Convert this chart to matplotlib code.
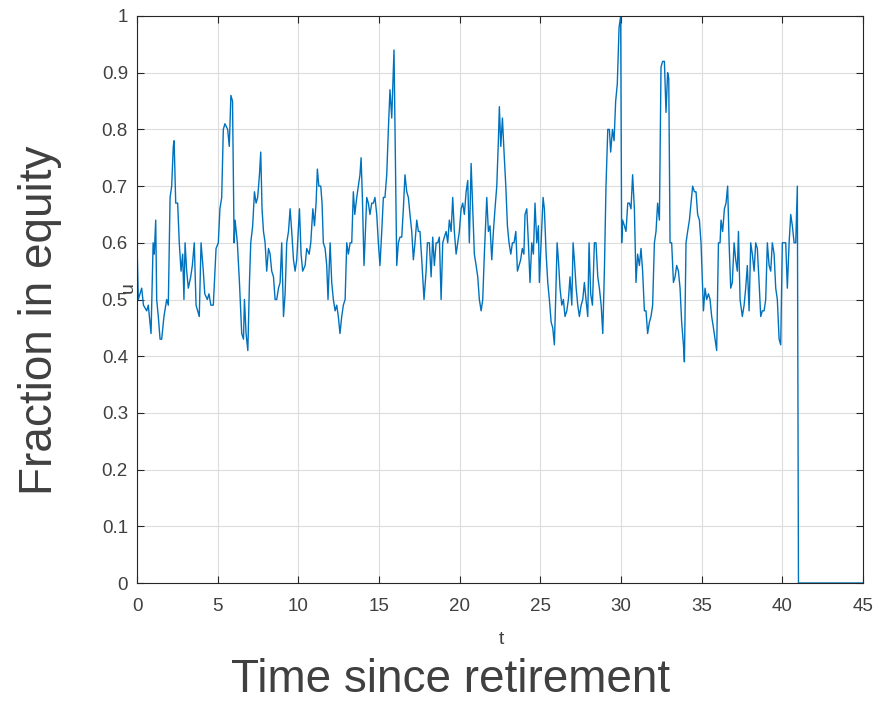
import matplotlib
matplotlib.use("Agg")
import matplotlib.pyplot as plt

t = [0.0, 0.08, 0.29, 0.4, 0.6, 0.7, 0.87, 1.0, 1.07, 1.16, 1.22, 1.32, 1.43, 1.53, 1.67, 1.84, 1.94,
     2.05, 2.15, 2.25, 2.3, 2.4, 2.52, 2.62, 2.73, 2.83, 2.91, 2.98, 3.08, 3.18, 3.33, 3.43, 3.55,
     3.66, 3.76, 3.86, 3.97, 4.11, 4.2, 4.36, 4.46, 4.58, 4.73, 4.9, 5.04, 5.14, 5.25, 5.35, 5.45,
     5.62, 5.72, 5.82, 5.92, 6.02, 6.08, 6.22, 6.35, 6.49, 6.6, 6.66, 6.76, 6.87, 6.97, 7.05, 7.17,
     7.28, 7.38, 7.48, 7.59, 7.67, 7.75, 7.84, 7.94, 8.04, 8.15, 8.25, 8.35, 8.46, 8.56, 8.66, 8.77,
     8.87, 8.97, 9.08, 9.18, 9.28, 9.39, 9.49, 9.59, 9.7, 9.8, 9.9, 10.07, 10.17, 10.27, 10.42, 10.52,
     10.67, 10.77, 10.9, 11.0, 11.1, 11.18, 11.27, 11.39, 11.47, 11.55, 11.66, 11.76, 11.84, 11.97,
     12.07, 12.17, 12.28, 12.38, 12.48, 12.58, 12.69, 12.79, 12.9, 13.0, 13.1, 13.21, 13.31, 13.41,
     13.5, 13.62, 13.72, 13.82, 13.89, 13.97, 14.07, 14.13, 14.24, 14.34, 14.44, 14.55, 14.65, 14.75,
     14.86, 14.96, 15.06, 15.17, 15.27, 15.37, 15.48, 15.58, 15.68, 15.79, 15.93, 16.1, 16.2, 16.3,
     16.41, 16.51, 16.61, 16.72, 16.82, 16.92, 17.03, 17.13, 17.23, 17.34, 17.44, 17.54, 17.65, 17.79,
     17.92, 18.0, 18.12, 18.23, 18.33, 18.43, 18.54, 18.64, 18.74, 18.85, 18.95, 19.05, 19.16, 19.26,
     19.36, 19.47, 19.57, 19.67, 19.78, 19.88, 19.98, 20.09, 20.19, 20.29, 20.4, 20.5, 20.6, 20.71,
     20.81, 20.91, 21.02, 21.12, 21.22, 21.33, 21.43, 21.53, 21.68, 21.78, 21.88, 21.99, 22.09, 22.19,
     22.3, 22.4, 22.46, 22.55, 22.65, 22.75, 22.86, 22.96, 23.06, 23.17, 23.27, 23.37, 23.48, 23.58,
     23.68, 23.78, 23.88, 23.98, 24.05, 24.16, 24.26, 24.36, 24.47, 24.57, 24.67, 24.78, 24.88, 24.94,
     25.05, 25.17, 25.25, 25.36, 25.46, 25.56, 25.67, 25.77, 25.87, 25.95, 26.04, 26.12, 26.22, 26.33,
     26.43, 26.53, 26.64, 26.74, 26.84, 26.95, 27.03, 27.11, 27.22, 27.32, 27.42, 27.53, 27.63, 27.73,
     27.83, 27.94, 28.02, 28.12, 28.23, 28.35, 28.45, 28.56, 28.66, 28.77, 28.87, 28.97, 29.07, 29.18,
     29.28, 29.36, 29.47, 29.57, 29.67, 29.77, 29.88, 29.98, 30.04, 30.1, 30.21, 30.31, 30.42, 30.52,
     30.62, 30.72, 30.83, 30.93, 31.03, 31.14, 31.24, 31.34, 31.45, 31.55, 31.65, 31.76, 31.86, 31.96,
     32.07, 32.17, 32.27, 32.38, 32.48, 32.58, 32.69, 32.79, 32.89, 32.96, 33.04, 33.14, 33.25, 33.35,
     33.45, 33.56, 33.66, 33.76, 33.87, 33.93, 34.03, 34.13, 34.24, 34.34, 34.44, 34.55, 34.65, 34.75,
     34.86, 34.96, 35.06, 35.11, 35.21, 35.31, 35.42, 35.52, 35.62, 35.73, 35.83, 35.93, 36.04, 36.14,
     36.2, 36.3, 36.41, 36.51, 36.61, 36.7, 36.8, 36.9, 37.01, 37.11, 37.21, 37.28, 37.38, 37.52,
     37.63, 37.73, 37.83, 37.94, 38.04, 38.14, 38.25, 38.35, 38.45, 38.56, 38.66, 38.76, 38.87, 38.97,
     39.07, 39.18, 39.28, 39.38, 39.49, 39.59, 39.69, 39.8, 39.9, 40.0, 40.11, 40.21, 40.31, 40.42,
     40.52, 40.62, 40.73, 40.83, 40.93, 41.0, 45.0]

u = [0.60, 0.50, 0.52, 0.49, 0.48, 0.49, 0.44, 0.60, 0.58, 0.64, 0.50, 0.47, 0.43, 0.43, 0.47, 0.50, 0.49,
     0.68, 0.70, 0.77, 0.78, 0.67, 0.67, 0.60, 0.55, 0.58, 0.50, 0.60, 0.55, 0.52, 0.54, 0.56, 0.60,
     0.49, 0.48, 0.47, 0.60, 0.55, 0.51, 0.50, 0.51, 0.49, 0.49, 0.59, 0.60, 0.66, 0.68, 0.80, 0.81,
     0.80, 0.77, 0.86, 0.85, 0.60, 0.64, 0.60, 0.53, 0.44, 0.43, 0.50, 0.44, 0.41, 0.53, 0.60, 0.63,
     0.69, 0.67, 0.68, 0.72, 0.76, 0.66, 0.62, 0.60, 0.55, 0.59, 0.58, 0.55, 0.54, 0.50, 0.50, 0.52,
     0.53, 0.60, 0.47, 0.51, 0.60, 0.62, 0.66, 0.62, 0.57, 0.55, 0.57, 0.66, 0.58, 0.55, 0.56, 0.59,
     0.58, 0.60, 0.66, 0.63, 0.67, 0.73, 0.70, 0.70, 0.67, 0.60, 0.59, 0.56, 0.50, 0.60,
     0.53, 0.50, 0.48, 0.49, 0.47, 0.44, 0.47, 0.49, 0.50, 0.60, 0.58, 0.60, 0.60, 0.69,
     0.65, 0.68, 0.70, 0.72, 0.75, 0.68, 0.56, 0.60, 0.68, 0.67, 0.65, 0.67, 0.67, 0.68,
     0.65, 0.60, 0.56, 0.62, 0.68, 0.68, 0.72, 0.80, 0.87, 0.82, 0.94, 0.56, 0.60, 0.61,
     0.61, 0.66, 0.72, 0.69, 0.68, 0.65, 0.62, 0.57, 0.60, 0.64, 0.62, 0.62, 0.57, 0.50,
     0.55, 0.60, 0.60, 0.54, 0.61, 0.56, 0.60, 0.60, 0.61, 0.50, 0.60, 0.61, 0.62, 0.60,
     0.64, 0.62, 0.68, 0.62, 0.58, 0.60, 0.62, 0.66, 0.67, 0.65, 0.69, 0.71, 0.60, 0.74,
     0.66, 0.58, 0.56, 0.54, 0.50, 0.48, 0.50, 0.58, 0.68, 0.62, 0.63, 0.57, 0.62, 0.66,
     0.70, 0.78, 0.84, 0.77, 0.82, 0.76, 0.70, 0.63, 0.60, 0.58, 0.60, 0.60, 0.62, 0.55,
     0.56, 0.57, 0.59, 0.58, 0.65, 0.66, 0.60, 0.53, 0.60, 0.58, 0.67, 0.60, 0.63, 0.53,
     0.60, 0.68, 0.66, 0.58, 0.53, 0.50, 0.46, 0.45, 0.42, 0.50, 0.60, 0.57, 0.52, 0.49,
     0.50, 0.47, 0.48, 0.50, 0.54, 0.49, 0.60, 0.57, 0.52, 0.49, 0.47, 0.49, 0.50, 0.53,
     0.50, 0.47, 0.60, 0.51, 0.49, 0.60, 0.60, 0.54, 0.52, 0.49, 0.44, 0.55, 0.70, 0.80,
     0.80, 0.76, 0.80, 0.78, 0.85, 0.88, 0.98, 1.00, 0.60, 0.64, 0.63, 0.62, 0.67, 0.67,
     0.66, 0.72, 0.66, 0.53, 0.58, 0.56, 0.59, 0.55, 0.48, 0.48, 0.44, 0.46, 0.47, 0.49,
     0.60, 0.62, 0.67, 0.64, 0.91, 0.92, 0.92, 0.83, 0.90, 0.89, 0.60, 0.60, 0.53, 0.54,
     0.56, 0.55, 0.52, 0.46, 0.42, 0.39, 0.60, 0.62, 0.64, 0.67, 0.70, 0.69, 0.69, 0.65,
     0.64, 0.60, 0.52, 0.48, 0.52, 0.50, 0.51, 0.50, 0.47, 0.45, 0.43, 0.41, 0.60, 0.60,
     0.64, 0.62, 0.66, 0.67, 0.70, 0.60, 0.52, 0.53, 0.60, 0.57, 0.55, 0.62, 0.50, 0.47,
     0.49, 0.52, 0.56, 0.48, 0.60, 0.58, 0.55, 0.60, 0.59, 0.53, 0.47, 0.48, 0.48, 0.50,
     0.60, 0.56, 0.55, 0.60, 0.58, 0.52, 0.50, 0.43, 0.42, 0.60, 0.60, 0.60, 0.52, 0.60,
     0.65, 0.63, 0.60, 0.60, 0.70, 0.00, 0.00]

x_ticks = [0, 5, 10, 15, 20, 25, 30, 35, 40, 45]
y_ticks = [0, 0.1, 0.2, 0.3, 0.4, 0.5, 0.6, 0.7, 0.8, 0.9, 1]
y_tick_labels = ["0", "0.1", "0.2", "0.3", "0.4", "0.5", "0.6", "0.7", "0.8", "0.9", "1"]

plt.rcParams['font.family'] = ['Liberation Sans', 'DejaVu Sans']

W, H = 888, 703
fig = plt.figure(figsize=(W / 100, H / 100), dpi=100)
ax = fig.add_axes([137 / W, 1 - 583 / H, (863 - 137) / W, (583 - 16) / H])

ax.plot(t, u, color='#0072BD', linewidth=1.0)
ax.set_xlim(0, 45)
ax.set_ylim(0, 1)
ax.set_xticks(x_ticks)
ax.set_xticklabels([str(v) for v in x_ticks])
ax.set_yticks(y_ticks)
ax.set_yticklabels(y_tick_labels)
ax.grid(True, color='#dcdcdc', linewidth=0.8)
ax.set_axisbelow(True)
ax.tick_params(direction='in', length=5, width=0.8, colors='#262626', labelsize=13.5,
               top=True, right=True, labelcolor='#404040')
ax.tick_params(axis='x', pad=11)
ax.tick_params(axis='y', pad=6.5)
for s in ax.spines.values():
    s.set_color('#262626')
    s.set_linewidth(0.8)

ax.set_xlabel('t', fontsize=14, color='#404040')
ax.xaxis.set_label_coords((501 - 137) / 726, (583 - 640) / 567)
ax.xaxis.label.set_va('center')
ax.set_ylabel('u', fontsize=14, color='#404040')
ax.yaxis.set_label_coords((128 - 137) / 726, (583 - 288) / 567)
ax.yaxis.label.set_va('center')

fig.text(40 / W, 1 - 320 / H, 'Fraction in equity', rotation=90, fontsize=33,
         color='#404040', ha='center', va='center')
fig.text(451 / W, 1 - 692 / H, 'Time since retirement', fontsize=33,
         color='#404040', ha='center', va='baseline')

fig.savefig('out.png', dpi=100)
